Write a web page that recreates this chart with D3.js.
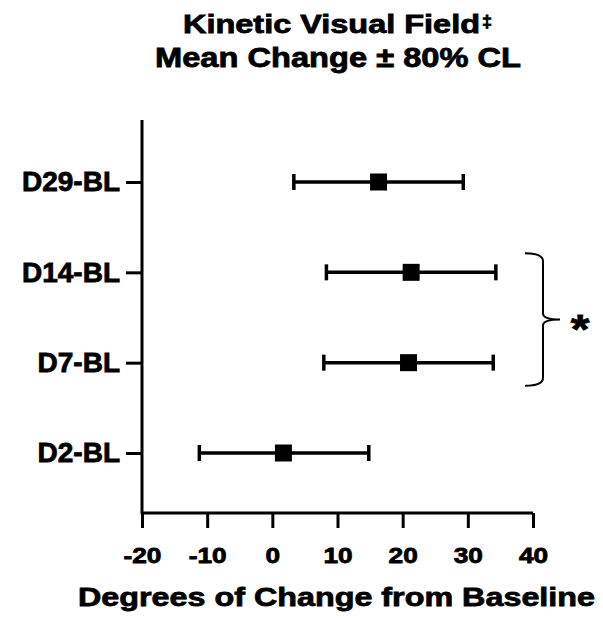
<!DOCTYPE html>
<html>
<head>
<meta charset="utf-8">
<script src="https://cdn.jsdelivr.net/npm/d3@7"></script>
<style>
  body { margin: 0; background: #fff; }
  text { font-family: "Liberation Sans", Arial, sans-serif; font-weight: bold; fill: #000; stroke: #000; stroke-width: 0.8px; }
</style>
</head>
<body>
<div id="chart"></div>
<script>
const categories = ["D29-BL", "D14-BL", "D7-BL", "D2-BL"];
const means = [16.3, 21.3, 20.9, 1.7];
const lower = [3.3, 8.3, 7.9, -11.2];
const upper = [29.3, 34.3, 33.9, 14.8];
const xTicks = [-20, -10, 0, 10, 20, 30, 40];

const width = 603, height = 618;
const font = "Liberation Sans, Arial, sans-serif";

const svg = d3.select("#chart")
  .append("svg")
  .attr("width", width)
  .attr("height", height);

const x = d3.scaleLinear().domain([-20, 40]).range([142, 533]);
const y = d3.scalePoint().domain(categories).range([182, 453]);

// title (the source text is a bit wider than Arial, so stretch it)
svg.append("text")
  .attr("x", 183).attr("y", 33)
  .attr("textLength", 297).attr("lengthAdjust", "spacingAndGlyphs")
  .style("font-size", "25.5px")
  .text("Kinetic Visual Field");
svg.append("text")
  .attr("x", 482).attr("y", 27)
  .attr("textLength", 10).attr("lengthAdjust", "spacingAndGlyphs")
  .style("font-size", "16px")
  .text("\u2021");
svg.append("text")
  .attr("x", 155).attr("y", 67)
  .attr("textLength", 366).attr("lengthAdjust", "spacingAndGlyphs")
  .style("font-size", "27px")
  .text("Mean Change \u00B1 80% CL");

// x axis
const xAxis = svg.append("g")
  .attr("transform", "translate(0,513)")
  .call(d3.axisBottom(x).tickValues(xTicks).tickFormat(d => String(d))
    .tickSize(15).tickPadding(20).tickSizeOuter(0));
xAxis.select(".domain").attr("stroke", "#000").attr("stroke-width", 3).attr("d", "M142,0H533");
xAxis.selectAll(".tick line").attr("stroke-width", 3);
xAxis.selectAll(".tick text")
  .attr("transform", "scale(1.22,1)")
  .style("font-size", "21.5px").style("font-family", font).style("font-weight", "bold");

// y axis
const yAxis = svg.append("g")
  .attr("transform", "translate(142,0)")
  .call(d3.axisLeft(y).tickSize(16).tickPadding(6).tickSizeOuter(0));
yAxis.select(".domain").attr("stroke", "#000").attr("stroke-width", 3).attr("d", "M0,120V514");
yAxis.selectAll(".tick line").attr("stroke-width", 3);
yAxis.selectAll(".tick text")
  .style("font-size", "28px").style("font-family", font).style("font-weight", "bold");

// error bars
const rows = categories.map((c, i) => ({ c, m: means[i], lo: lower[i], hi: upper[i] }));
const g = svg.append("g");
g.selectAll(".err").data(rows).enter().append("line")
  .attr("x1", d => x(d.lo)).attr("x2", d => x(d.hi))
  .attr("y1", d => y(d.c)).attr("y2", d => y(d.c))
  .attr("stroke", "#000").attr("stroke-width", 3.5);
g.selectAll(".capL").data(rows).enter().append("line")
  .attr("x1", d => x(d.lo)).attr("x2", d => x(d.lo))
  .attr("y1", d => y(d.c) - 8).attr("y2", d => y(d.c) + 8)
  .attr("stroke", "#000").attr("stroke-width", 3.5);
g.selectAll(".capR").data(rows).enter().append("line")
  .attr("x1", d => x(d.hi)).attr("x2", d => x(d.hi))
  .attr("y1", d => y(d.c) - 8).attr("y2", d => y(d.c) + 8)
  .attr("stroke", "#000").attr("stroke-width", 3.5);
g.selectAll(".pt").data(rows).enter().append("rect")
  .attr("x", d => x(d.m) - 8.5).attr("y", d => y(d.c) - 8.5)
  .attr("width", 17).attr("height", 17)
  .attr("fill", "#000");

// bracket for significance
const yTop = y("D14-BL") - 19, yBot = y("D7-BL") + 23, yMid = (yTop + yBot) / 2;
const bx = 543;
svg.append("path")
  .attr("d", `M525,${yTop} Q543,${yTop} ${bx},${yTop + 8} L${bx},${yMid - 6} Q${bx},${yMid} 560,${yMid} Q${bx},${yMid} ${bx},${yMid + 6} L${bx},${yBot - 8} Q${bx},${yBot} 525,${yBot}`)
  .attr("fill", "none").attr("stroke", "#000").attr("stroke-width", 2);
svg.append("text")
  .attr("transform", `translate(580,${yMid + 23}) scale(1.2,1)`)
  .attr("text-anchor", "middle")
  .style("font-size", "40px")
  .text("*");

// x axis title
svg.append("text")
  .attr("x", 78).attr("y", 606)
  .attr("textLength", 517).attr("lengthAdjust", "spacingAndGlyphs")
  .style("font-size", "26.5px")
  .text("Degrees of Change from Baseline");
</script>
</body>
</html>
